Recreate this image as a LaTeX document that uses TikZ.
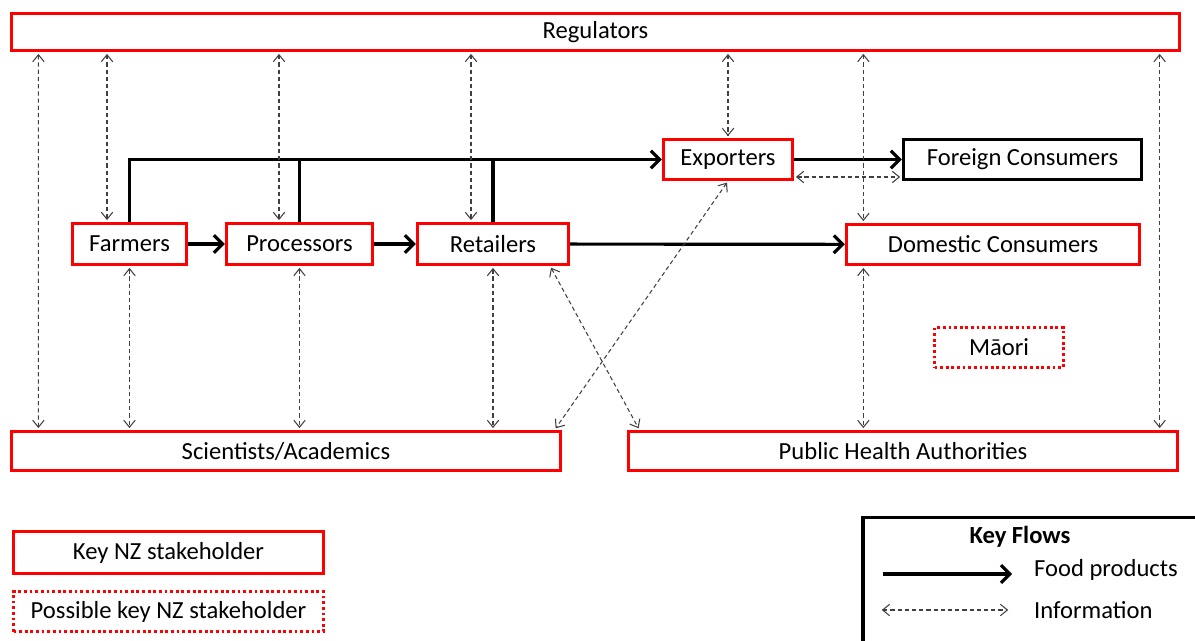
\documentclass[tikz,border=0pt]{standalone}
\usepackage{fontspec}
\setmainfont{Carlito}
\usetikzlibrary{arrows.meta,positioning}
\definecolor{nzred}{rgb}{1,0,0}
\definecolor{infogray}{rgb}{0.25,0.25,0.25}

\begin{document}
\begin{tikzpicture}[x=0.02cm,y=-0.02cm,font=\fontsize{14}{16}\selectfont]
\tikzstyle{key}=[rectangle, draw=nzred, line width=1.9pt, inner sep=0pt, minimum height=0.8cm, fill=white]
\tikzstyle{possible}=[key, dash pattern=on 1.6pt off 1.6pt]
\tikzstyle{other}=[key, draw=black]
\tikzstyle{flow}=[line width=1.8pt, -{Straight Barb[length=5pt,width=10pt,line width=1.8pt]}]
\tikzstyle{info}=[infogray, line width=0.6pt, dash pattern=on 2.4pt off 1.7pt, {Straight Barb[length=4pt,width=6.5pt,line width=0.6pt]}-{Straight Barb[length=4pt,width=6.5pt,line width=0.6pt]}, shorten >=1pt, shorten <=1pt]
\clip (0,0) rectangle (1195,641);

% stakeholders
\node[key, minimum width=23.36cm, minimum height=0.74cm] (reg) at (595.5,32) {Regulators};
\node[key, minimum width=2.28cm, minimum height=0.82cm] (far) at (129.5,244) {Farmers};
\node[key, minimum width=2.92cm, minimum height=0.82cm] (pro) at (299.5,244) {Processors};
\node[key, minimum width=3.02cm, minimum height=0.82cm] (ret) at (493,244) {Retailers};
\node[key, minimum width=2.58cm] (exp) at (728,159.5) {Exporters};
\node[other, minimum width=4.76cm] (for) at (1022.5,159.5) {Foreign Consumers};
\node[key, minimum width=5.86cm] (dom) at (993,244.5) {Domestic Consumers};
\node[possible, minimum width=2.58cm] (mao) at (999,347.5) {Māori};
\node[key, minimum width=10.98cm, minimum height=0.78cm] (sci) at (286,451) {Scientists/Academics};
\node[key, minimum width=10.98cm, minimum height=0.78cm] (pha) at (903,451) {Public Health Authorities};

% food products
\draw[flow] (far) -- (pro);
\draw[flow] (pro) -- (ret);
\draw[flow] (ret) -- (dom);
\draw[flow] (exp) -- (for);
\draw[flow] (far.north) -- (far.north |- exp.west) -- (exp.west);
\draw[line width=1.8pt] (pro.north) -- (pro.north |- exp.west);
\draw[line width=1.8pt] (ret.north) -- (ret.north |- exp.west);

% information
\draw[info] ([xshift=0.57cm]reg.south west) -- ([xshift=0.57cm]sci.north west);
\draw[info] ([xshift=-0.45cm]far.north |- reg.south) -- ([xshift=-0.45cm]far.north);
\draw[info] ([xshift=-0.41cm]pro.north |- reg.south) -- ([xshift=-0.41cm]pro.north);
\draw[info] ([xshift=-0.44cm]ret.north |- reg.south) -- ([xshift=-0.44cm]ret.north);
\draw[info] (exp.north |- reg.south) -- (exp.north);
\draw[info] ([xshift=0.37cm]dom.north west |- reg.south) -- ([xshift=0.37cm]dom.north west);
\draw[info] ([xshift=-0.39cm]pha.north east |- reg.south) -- ([xshift=-0.39cm]pha.north east);
\draw[info] (far.south) -- (far.south |- sci.north);
\draw[info] (pro.south) -- (pro.south |- sci.north);
\draw[info] (ret.south) -- (ret.south |- sci.north);
\draw[info] ([xshift=0.37cm]dom.south west) -- ([xshift=0.37cm]dom.south west |- pha.north);
\draw[info] ([yshift=-0.35cm]exp.east) -- ([yshift=-0.35cm]exp.east -| for.west);
\draw[info] ([xshift=-0.4cm]ret.south east) -- ([xshift=0.25cm]pha.north west);
\draw[info] (exp.south) -- ([xshift=-0.15cm]sci.north east);

% legend
\node[key, minimum width=6.2cm, minimum height=0.84cm] (kns) at (168.5,552.5) {Key NZ stakeholder};
\node[possible, minimum width=6.2cm] (pkns) at (168.5,611.5) {Possible key NZ stakeholder};
\node[rectangle, draw=black, line width=1.9pt, minimum width=7.4cm, minimum height=3.3cm] (legend) at (1048,600) {};
\node[font=\fontsize{14}{16}\selectfont\bfseries] (kf) at (1020,537) {Key Flows};
\coordinate (f1) at (883,574);
\coordinate (f2) at (1012,574);
\coordinate (i1) at (880,610);
\coordinate (i2) at (1010,610);
\draw[flow] (f1) -- (f2);
\draw[info] (i1) -- (i2);
\node[anchor=west] (fp) at (1028,570) {Food products};
\node[anchor=west] (inf) at (1028,610) {Information};
\end{tikzpicture}
\end{document}
